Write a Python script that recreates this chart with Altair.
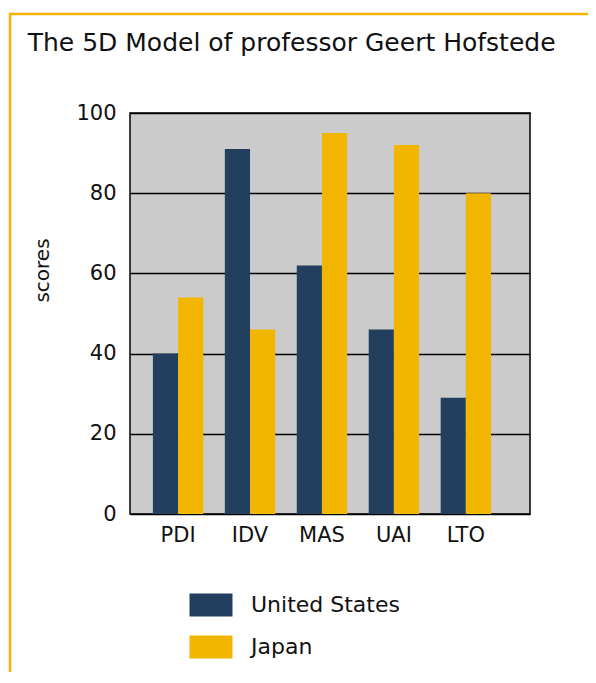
import altair as alt
import pandas as pd

dimensions = ["PDI", "IDV", "MAS", "UAI", "LTO"]
countries = ["United States", "Japan"]
us_scores = [40, 91, 62, 46, 29]
japan_scores = [54, 46, 95, 92, 80]
y_ticks = [0, 20, 40, 60, 80, 100]

rows = []
for d, u, j in zip(dimensions, us_scores, japan_scores):
    rows.append({"dim": d, "country": "United States", "score": u})
    rows.append({"dim": d, "country": "Japan", "score": j})
df = pd.DataFrame(rows)

FONT = "DejaVu Sans"
ORANGE = "#F4B400"

bars = alt.Chart(df).mark_bar().encode(
    x=alt.X("dim:N", sort=dimensions, title=None,
            scale=alt.Scale(paddingInner=0.3, paddingOuter=0.43, align=0.37),
            axis=alt.Axis(labelAngle=0, labelFontSize=21, labelPadding=10, ticks=False,
                          domain=False, labelColor="#111", labelFont=FONT)),
    xOffset=alt.XOffset("country:N", sort=countries, scale=alt.Scale(paddingInner=0, paddingOuter=0)),
    y=alt.Y("score:Q", title="scores",
            scale=alt.Scale(domain=[0, 100], nice=False),
            axis=alt.Axis(values=y_ticks, grid=True, gridColor="#000", gridWidth=1.5, gridOpacity=1,
                          ticks=False, domain=False, labelFontSize=21, labelPadding=14,
                          labelColor="#111", labelFont=FONT,
                          titleFontSize=20, titleFontWeight="normal", titleFont=FONT,
                          titleColor="#111", titleX=-88, titleY=157,
                          titleAlign="center", titleBaseline="middle")),
    color=alt.Color("country:N", sort=countries,
                    scale=alt.Scale(domain=countries, range=["#22405E", "#F2B600"]),
                    legend=alt.Legend(title=None, orient="none", legendX=70, legendY=481,
                                      direction="vertical",
                                      symbolType="M-2,-1.07H2V1.07H-2Z", symbolSize=462,
                                      symbolStrokeWidth=0, labelFontSize=22, labelFont=FONT,
                                      labelColor="#111", labelOffset=29, rowPadding=18,
                                      padding=0)),
)

border = alt.Chart(pd.DataFrame({"a": [0]})).mark_rect(
    fill=None, stroke=ORANGE, strokeWidth=2.5, clip=False
).encode(
    x=alt.value(-120), x2=alt.value(900), y=alt.value(-99), y2=alt.value(900)
)

chart = alt.layer(bars, border).properties(
    width=400, height=401,
    title=alt.TitleParams("The 5D Model of professor Geert Hofstede", anchor="start",
                          fontSize=25, font=FONT, fontWeight="normal", color="#111",
                          dx=19, offset=0, dy=43),
    autosize=alt.AutoSizeParams(type="none"),
    padding={"left": 122, "top": 105, "right": 58, "bottom": 158},
).configure(
    background="white"
).configure_view(
    fill="#CBCBCB", stroke="#000", strokeWidth=1.5
)

chart.save("out.html", embed_options={"renderer": "svg", "actions": False})
